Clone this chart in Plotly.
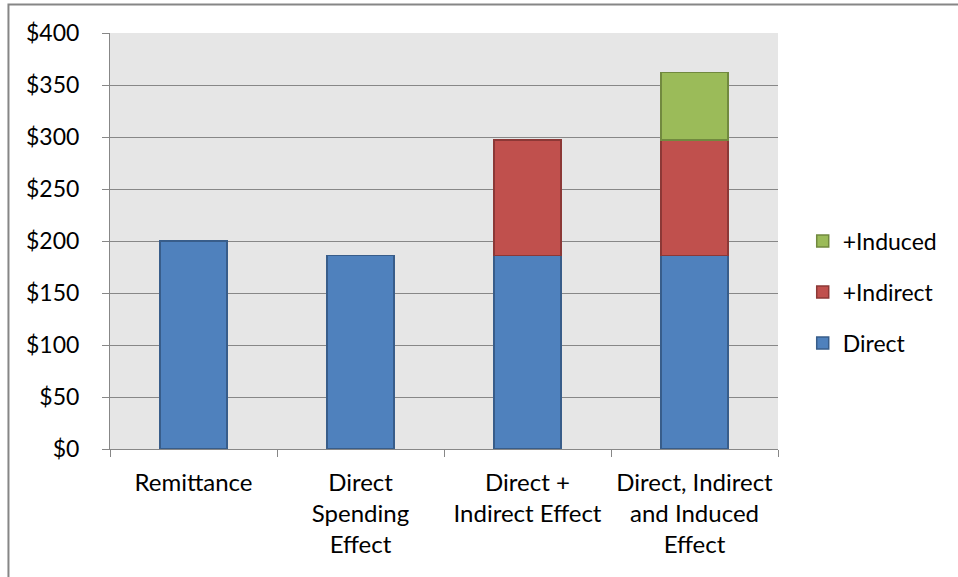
import plotly.graph_objects as go

# Categories and stacked components (dollars)
categories = [
    "Remittance",
    "Direct<br>Spending<br>Effect",
    "Direct +<br>Indirect Effect",
    "Direct, Indirect<br>and Induced<br>Effect",
]
direct = [200, 186, 186, 186]
indirect = [None, None, 111, 111]
induced = [None, None, None, 65]

y_ticks = [0, 50, 100, 150, 200, 250, 300, 350, 400]
y_tick_text = ["$" + str(v) for v in y_ticks]

FONT = "Lato"
FS = 23
XFS = 24
GRID = "#878787"

# name, values, fill, outline, legend rank (top to bottom)
series = [
    ("Direct", direct, "#4f81bd", "#385d8a", 3),
    ("+Indirect", indirect, "#c0504d", "#8c3836", 2),
    ("+Induced", induced, "#9bbb59", "#71893f", 1),
]

fig = go.Figure()
for name, vals, fill, edge, rank in series:
    fig.add_trace(go.Bar(
        name=name,
        x=categories,
        y=vals,
        legendgroup=name,
        legendrank=rank,
        marker=dict(color=fill, line=dict(color=edge, width=1.5)),
    ))

fig.update_layout(
    width=958,
    height=577,
    barmode="stack",
    bargap=0.6,
    paper_bgcolor="white",
    plot_bgcolor="#e6e6e6",
    margin=dict(l=110, r=180, t=33, b=128, autoexpand=False),
    font=dict(family=FONT, size=FS, color="black"),
    showlegend=True,
    legend=dict(
        x=1.037, xanchor="left",
        y=0.377, yanchor="middle",
        traceorder="grouped",
        tracegroupgap=18,
        font=dict(family=FONT, size=FS),
        bgcolor="rgba(0,0,0,0)",
    ),
    shapes=[
        # chart-area frame (extends past the right and bottom edges)
        dict(type="rect", xref="paper", yref="paper",
             x0=-0.152, x1=1.6, y0=-0.6, y1=1.0685,
             line=dict(color="#868686", width=2), fillcolor="rgba(0,0,0,0)",
             layer="below"),
    ],
)

fig.update_yaxes(
    range=[0, 400],
    tickvals=y_ticks,
    ticktext=y_tick_text,
    showgrid=True,
    gridcolor=GRID,
    gridwidth=1,
    showline=True,
    linecolor=GRID,
    linewidth=1,
    ticks="outside",
    ticklen=7,
    tickcolor=GRID,
    ticklabelstandoff=18,
    zeroline=False,
    tickfont=dict(family=FONT, size=FS),
)
fig.update_xaxes(
    showline=True,
    linecolor=GRID,
    linewidth=1,
    ticks="outside",
    tickson="boundaries",
    ticklen=7,
    tickcolor=GRID,
    showgrid=False,
    tickangle=0,
    ticklabelstandoff=12,
    tickfont=dict(family=FONT, size=XFS),
)

fig.write_html("out.html")
